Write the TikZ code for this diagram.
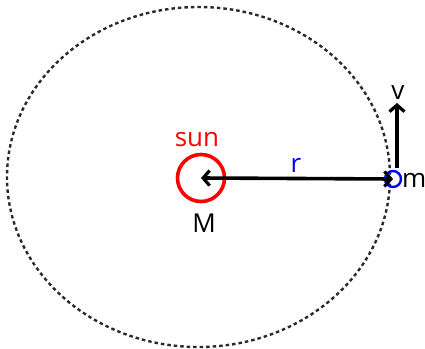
\documentclass[tikz,border=0pt]{standalone}
\usepackage{fontspec}
\setmainfont{Open Sans}
\usetikzlibrary{arrows.meta}
\definecolor{dotgray}{HTML}{2A2A2A}
\tikzset{
  orbit/.style={draw=dotgray, line width=2.4pt, dash pattern=on 3.5pt off 3pt},
  vec/.style={draw=black, line width=3.8pt, -{Straight Barb[length=6.5pt,width=15pt,line width=3.2pt]}},
  dvec/.style={draw=black, line width=3.6pt, {Straight Barb[length=6.5pt,width=15pt,line width=3.2pt]}-{Straight Barb[length=6.5pt,width=15pt,line width=3.2pt]}},
  lbl/.style={font=\fontsize{26}{29}\selectfont, inner sep=0pt}
}
\begin{document}
\begin{tikzpicture}[x=1pt,y=-1pt]
\useasboundingbox (0,0) rectangle (425,348);
\draw[orbit] (198.5,177) ellipse [x radius=191.5, y radius=170];
\node[draw=red, line width=3.6pt, circle, minimum size=47pt, inner sep=0pt] (sun) at (201,178) {};
\node[draw=blue, line width=2.4pt, circle, minimum size=16pt, inner sep=0pt] (m) at (393,179) {};
\draw[dvec] (m.center) -- (sun.center);
\coordinate (vbase) at (397,168);
\coordinate (vtip) at (397,103);
\draw[vec] (vbase) -- (vtip);
\node[lbl, text=red] (sunlbl) at (197,140) {sun};
\node[lbl] (Mlbl) at (204,223) {M};
\node[lbl, text=blue] (rlbl) at (296,165) {r};
\node[lbl] (vlbl) at (398,93) {v};
\node[lbl, anchor=west] (mlbl) at (402,180) {m};
\end{tikzpicture}
\end{document}
